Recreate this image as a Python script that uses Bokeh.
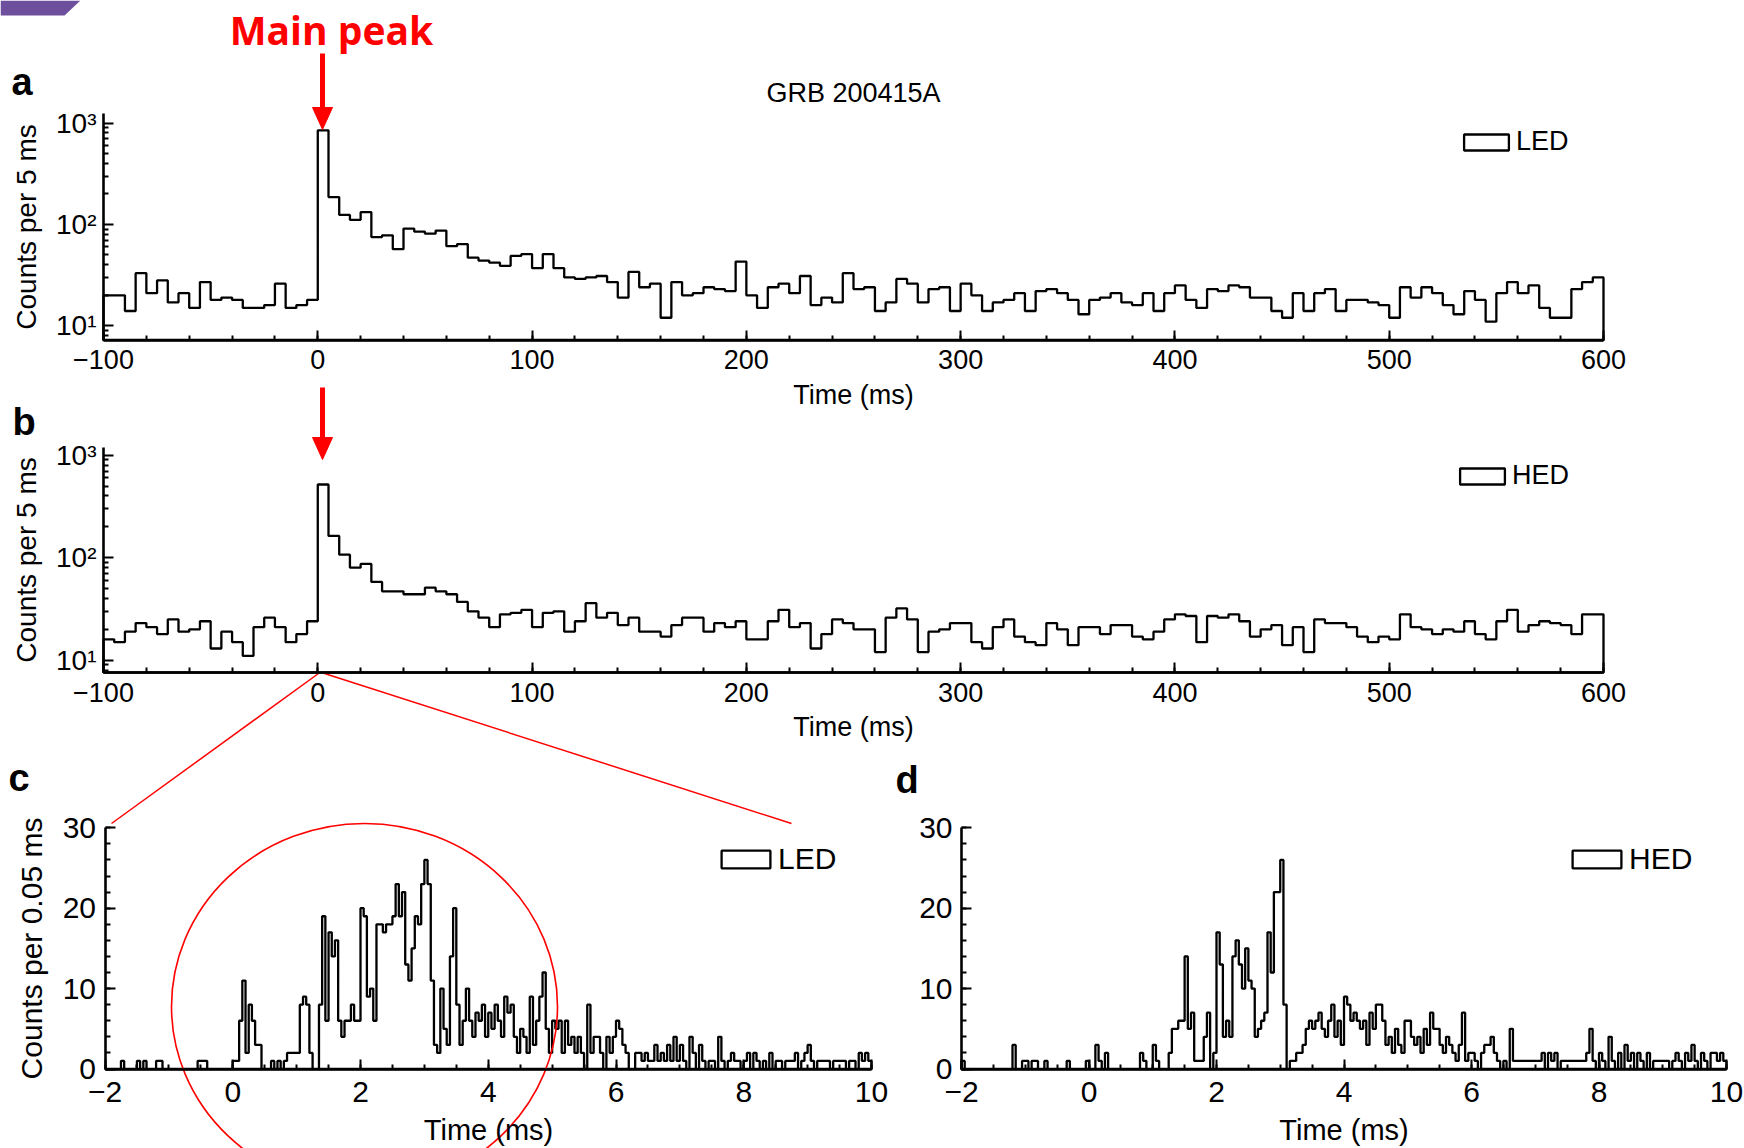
import math
from bokeh.plotting import figure
from bokeh.models import (Range1d, LinearScale, LogScale, LinearAxis, LogAxis,
                          FixedTicker, SingleIntervalTicker, Legend, LegendItem)
from bokeh.core.properties import value
from bokeh.embed import file_html
from bokeh.resources import INLINE

# ---------------- data ----------------
# panels a/b: counts per 5 ms bin, bins start at -100 ms .. 595 ms
bin5_start = -100
bin5_width = 5
led_5ms = [20, 20, 14, 33, 21, 28, 17, 21, 15, 27, 18, 19, 18, 15, 15, 16, 26, 15, 16, 18,
           847, 186, 124, 111, 132, 75, 78, 57, 91, 85,
           81, 87, 61, 64, 47, 44, 42, 39, 49, 51,
           37, 51, 37, 30, 29, 30, 31, 27, 19, 34,
           24, 26, 12, 27, 20, 21, 24, 23, 22, 43,
           20, 15, 24, 26, 21, 31, 16, 19, 17, 33,
           23, 24, 14, 17, 29, 26, 17, 23, 24, 14,
           26, 20, 14, 17, 18, 21, 14, 22, 23, 21,
           18, 13, 18, 19, 21, 17, 16, 21, 14, 21,
           25, 18, 15, 23, 22, 25, 24, 19, 19, 14,
           12, 21, 14, 21, 23, 14, 18, 18, 17, 16,
           12, 24, 19, 24, 21, 16, 13, 22, 18, 11,
           21, 27, 21, 25, 15, 12, 12, 23, 27, 30]
hed_5ms = [16, 15, 19, 23, 21, 18, 25, 19, 20, 24, 13, 19, 15, 11, 21, 26, 21, 15, 18, 24,
           518, 163, 107, 80, 87, 58, 47, 47, 44, 44,
           51, 47, 44, 37, 30, 26, 21, 28, 29, 31,
           21, 29, 30, 19, 24, 36, 26, 29, 22, 26,
           19, 19, 17, 22, 26, 26, 19, 23, 21, 24,
           16, 16, 24, 31, 21, 23, 13, 18, 25, 23,
           20, 20, 12, 26, 32, 25, 12, 19, 20, 23,
           23, 15, 13, 21, 25, 17, 15, 14, 23, 20,
           14, 21, 21, 18, 22, 22, 17, 16, 19, 25,
           28, 27, 15, 27, 26, 28, 24, 17, 20, 22,
           14, 21, 12, 25, 23, 23, 21, 17, 15, 17,
           16, 28, 21, 20, 18, 20, 19, 24, 18, 16,
           24, 31, 19, 22, 24, 23, 22, 18, 28, 28]

# panels c/d: counts per 0.05 ms bin, bins start at -2 ms .. 9.95 ms
bin05_start = -2.0
bin05_width = 0.05
led_005ms = [0, 0, 0, 0, 0, 1, 0, 0, 0, 0, 1, 0, 1, 0, 0, 0, 1, 1, 0, 0,
             0, 0, 0, 0, 0, 0, 0, 0, 0, 1, 1, 1, 0, 0, 0, 0, 0, 0, 0, 0,
             1, 1, 6, 11, 2, 8, 6, 3, 3, 0, 0, 0, 1, 0, 1, 0, 1, 2, 2, 2,
             2, 8, 9, 8, 2, 0, 0, 8, 19, 6, 17, 14, 16, 6, 4, 6, 6, 8, 6, 6,
             20, 19, 9, 10, 6, 18, 18, 17, 18, 18, 19, 23, 19, 22, 13, 11, 15, 19, 18, 23,
             26, 23, 11, 3, 2, 10, 5, 3, 14, 20, 8, 3, 6, 10, 6, 4, 7, 6, 8, 4,
             7, 5, 8, 6, 4, 9, 7, 8, 4, 2, 5, 4, 2, 9, 3, 6, 9, 12, 5, 2,
             6, 5, 6, 2, 6, 3, 4, 2, 4, 2, 0, 8, 2, 4, 4, 2, 0, 4, 2, 4,
             6, 5, 3, 2, 0, 0, 2, 2, 1, 2, 1, 1, 3, 1, 2, 1, 3, 1, 4, 1,
             3, 1, 0, 4, 2, 0, 3, 1, 0, 1, 1, 0, 4, 1, 0, 1, 2, 1, 1, 0,
             1, 2, 0, 2, 1, 0, 1, 0, 2, 0, 1, 1, 0, 1, 1, 1, 2, 0, 1, 2,
             3, 1, 0, 1, 1, 1, 1, 0, 1, 1, 1, 1, 0, 1, 1, 0, 2, 1, 2, 1]
hed_005ms = [1, 0, 0, 0, 0, 0, 0, 0, 0, 0, 0, 0, 0, 0, 0, 0, 3, 0, 0, 1,
             1, 0, 1, 1, 0, 0, 1, 0, 0, 0, 0, 0, 0, 1, 0, 0, 0, 0, 0, 1,
             0, 0, 3, 1, 0, 2, 0, 0, 0, 0, 0, 0, 0, 0, 0, 0, 2, 1, 0, 0,
             3, 1, 0, 0, 0, 2, 5, 5, 6, 6, 14, 5, 7, 1, 1, 1, 4, 7, 0, 2,
             17, 13, 4, 6, 4, 14, 16, 13, 10, 15, 11, 10, 4, 5, 6, 7, 17, 12, 22, 22,
             26, 8, 0, 1, 1, 2, 2, 3, 5, 6, 5, 6, 7, 5, 4, 6, 8, 4, 6, 3,
             9, 8, 6, 7, 6, 5, 6, 3, 7, 5, 8, 8, 6, 3, 4, 2, 5, 3, 2, 6,
             6, 4, 3, 4, 2, 5, 3, 7, 5, 5, 3, 2, 4, 3, 2, 1, 3, 7, 1, 2,
             2, 1, 0, 2, 3, 3, 4, 2, 1, 0, 1, 0, 5, 1, 1, 1, 1, 1, 1, 1,
             1, 1, 2, 0, 2, 1, 2, 0, 1, 1, 1, 1, 1, 1, 1, 1, 2, 5, 1, 0,
             2, 1, 0, 4, 1, 0, 2, 0, 3, 1, 2, 0, 2, 1, 0, 2, 0, 1, 1, 1,
             1, 1, 0, 1, 2, 1, 0, 2, 1, 3, 1, 0, 2, 1, 0, 2, 2, 1, 2, 1]

title_text = "GRB 200415A"
x_label = "Time (ms)"
y_label_5ms = "Counts per 5 ms"
y_label_005ms = "Counts per 0.05 ms"

# ---------------- layout (pixel anchors of each panel) ----------------
W, H = 1744, 1148
FONT = "Liberation Sans"


def lin_map(v0, p0, v1, p1, p):
    return v0 + (p - p0) * (v1 - v0) / (p1 - p0)


def x_range_for(v0, p0, v1, p1):
    return Range1d(lin_map(v0, p0, v1, p1, 0), lin_map(v0, p0, v1, p1, W))


def y_range_for(v0, p0, v1, p1, log=False):
    # p measured from the top of the canvas; range start sits at the bottom
    if log:
        a, b = math.log10(v0), math.log10(v1)
        return Range1d(10 ** lin_map(a, p0, b, p1, H), 10 ** lin_map(a, p0, b, p1, 0))
    return Range1d(lin_map(v0, p0, v1, p1, H), lin_map(v0, p0, v1, p1, 0))


def y_at(v0, p0, v1, p1, p, log=False):
    if log:
        return 10 ** lin_map(math.log10(v0), p0, math.log10(v1), p1, p)
    return lin_map(v0, p0, v1, p1, p)


ya_anchor = (10, 325.3, 1000, 122.5)
yb_anchor = (10, 659.7, 1000, 454.7)
ycd_anchor = (0, 1068.5, 30, 827.3)
ya_lo, ya_hi = y_at(*ya_anchor, 339.5, log=True), y_at(*ya_anchor, 113, log=True)
yb_lo, yb_hi = y_at(*yb_anchor, 672, log=True), y_at(*yb_anchor, 447, log=True)

p = figure(width=W, height=H, output_backend="svg", toolbar_location=None,
           x_range=Range1d(0, W), y_range=Range1d(0, H), min_border=0,
           x_axis_location=None, y_axis_location=None, title_location=None)
p.outline_line_color = None
p.background_fill_color = "white"
p.border_fill_color = "white"
p.grid.visible = False

p.extra_x_ranges = {
    "xab": x_range_for(-100, 103, 600, 1603),
    "xc": x_range_for(-2, 104.5, 10, 871),
    "xd": x_range_for(-2, 961, 10, 1726),
}
p.extra_y_ranges = {
    "ya": y_range_for(*ya_anchor, log=True),
    "yb": y_range_for(*yb_anchor, log=True),
    "ycd": y_range_for(*ycd_anchor),
}
p.extra_x_scales = {"xab": LinearScale(), "xc": LinearScale(), "xd": LinearScale()}
p.extra_y_scales = {"ya": LogScale(), "yb": LogScale(), "ycd": LinearScale()}


def outline(start, width, counts, base):
    n = len(counts)
    edges = [start + i * width for i in range(n + 1)]
    xs, ys = [edges[0]], [base]
    for i, c in enumerate(counts):
        xs += [edges[i], edges[i + 1]]
        ys += [c, c]
    xs.append(edges[-1])
    ys.append(base)
    return xs, ys


def style_axis(ax, fs):
    ax.axis_line_width = 2.6
    ax.axis_line_color = "black"
    ax.major_tick_in = 10
    ax.major_tick_out = 0
    ax.minor_tick_in = 5
    ax.minor_tick_out = 0
    ax.major_tick_line_width = 2
    ax.minor_tick_line_width = 2
    ax.major_tick_line_color = "black"
    ax.minor_tick_line_color = "black"
    ax.major_label_text_font = FONT
    ax.major_label_text_font_size = fs
    ax.major_label_text_color = "black"
    ax.axis_label_text_font = FONT
    ax.axis_label_text_font_style = "normal"
    ax.axis_label_text_color = "black"


def hist(counts, start, width, base, xname, yname):
    xs, ys = outline(start, width, counts, base)
    return p.patch(xs, ys, fill_color=None, line_color="black", line_width=2.3,
                   x_range_name=xname, y_range_name=yname)


def add_legend(r, label, vx, vy, gw, gh, fs):
    leg = Legend(items=[LegendItem(label=label, renderers=[r])], location=(vx, vy),
                 glyph_width=gw, glyph_height=gh, label_standoff=2, padding=0,
                 margin=0, spacing=0, border_line_alpha=0, background_fill_alpha=0,
                 label_text_font=FONT, label_text_font_size=fs, label_height=gh,
                 label_text_color="black")
    p.add_layout(leg)


def log_panel(counts, yname, ylo, yhi, label, leg_pos):
    r = hist(counts, bin5_start, bin5_width, ylo, "xab", yname)
    xa = LinearAxis(x_range_name="xab", y_range_name=yname, fixed_location=ylo,
                    bounds=(-100, 600),
                    ticker=SingleIntervalTicker(interval=100, num_minor_ticks=5))
    style_axis(xa, "27px")
    xa.major_label_overrides = {-100: "\u2212100"}
    xa.major_label_standoff = 10
    xa.axis_label = x_label
    xa.axis_label_text_font_size = "27px"
    xa.axis_label_standoff = 7
    p.add_layout(xa, "below")
    minors = [m * 10 ** k for k in (0, 1, 2) for m in range(2, 10) if ylo < m * 10 ** k < yhi]
    ya = LogAxis(x_range_name="xab", y_range_name=yname, fixed_location=-100,
                 bounds=(ylo, yhi),
                 ticker=FixedTicker(ticks=[10, 100, 1000], minor_ticks=minors))
    style_axis(ya, "28px")
    ya.major_label_overrides = {10: "10\u00b9", 100: "10\u00b2", 1000: "10\u00b3"}
    ya.major_label_standoff = 7
    ya.axis_label = y_label_5ms
    ya.axis_label_text_font_size = "28px"
    ya.axis_label_standoff = 11
    p.add_layout(ya, "left")
    add_legend(r, label, leg_pos[0], leg_pos[1], 56, 20, "27px")


def lin_panel(counts, xname, label, leg_pos, with_ylabel):
    r = hist(counts, bin05_start, bin05_width, 0, xname, "ycd")
    xa = LinearAxis(x_range_name=xname, y_range_name="ycd", fixed_location=0,
                    bounds=(-2, 10),
                    ticker=SingleIntervalTicker(interval=2, num_minor_ticks=4))
    style_axis(xa, "30px")
    xa.major_label_overrides = {-2: "\u22122"}
    xa.major_label_standoff = 13
    xa.axis_label = x_label
    xa.axis_label_text_font_size = "29px"
    xa.axis_label_standoff = 8
    p.add_layout(xa, "below")
    ya = LinearAxis(x_range_name=xname, y_range_name="ycd", fixed_location=-2,
                    bounds=(0, 30),
                    ticker=SingleIntervalTicker(interval=10, num_minor_ticks=5))
    style_axis(ya, "30px")
    ya.major_label_standoff = 9
    if with_ylabel:
        ya.axis_label = y_label_005ms
        ya.axis_label_text_font_size = "30px"
        ya.axis_label_standoff = 12
    p.add_layout(ya, "left")
    add_legend(r, label, leg_pos[0], leg_pos[1], 61, 22, "30px")


log_panel(led_5ms, "ya", ya_lo, ya_hi, "LED", (1458, H - 157))
log_panel(hed_5ms, "yb", yb_lo, yb_hi, "HED", (1454, H - 491))
lin_panel(led_005ms, "xc", "LED", (715, H - 876), True)
lin_panel(hed_005ms, "xd", "HED", (1566, H - 876), False)

# title
p.text(x=[853], y=[H - 92], text=[title_text], text_font=value(FONT),
       text_font_size="27px", text_color="black", text_align="center",
       text_baseline="middle")

# ---------------- red annotations (canvas pixels, y up) ----------------
RED = "#ff0000"
p.patch([0, 80, 64, 0], [H, H, H - 15, H - 15], fill_color="#6e4f9e", line_color=None)
p.text(x=[331], y=[H - 29], text=["Main peak"], text_font=value("Open Sans"),
       text_font_style="bold", text_font_size="39px", text_color=RED,
       text_align="center", text_baseline="middle")
p.segment(x0=[322, 322], y0=[H - 53, H - 387], x1=[322, 322], y1=[H - 110, H - 440],
          line_color=RED, line_width=5)
p.patches(xs=[[312, 332, 322], [312, 332, 322]],
          ys=[[H - 107, H - 107, H - 129], [H - 437, H - 437, H - 459]],
          fill_color=RED, line_color=RED, line_width=1)
p.segment(x0=[318, 324], y0=[H - 673, H - 673], x1=[111, 791], y1=[H - 823, H - 823],
          line_color=RED, line_width=1.5)
p.ellipse(x=[364], y=[H - 1006], width=[386], height=[366], fill_alpha=0,
          line_color=RED, line_width=1.6)
# panel letters
p.text(x=[11, 12, 8, 895], y=[H - 81, H - 421, H - 777, H - 779], text=["a", "b", "c", "d"],
       text_font=value(FONT), text_font_style="bold", text_font_size="38px",
       text_color="black", text_align="left", text_baseline="alphabetic")

open("out.html", "w").write(file_html(p, INLINE))
